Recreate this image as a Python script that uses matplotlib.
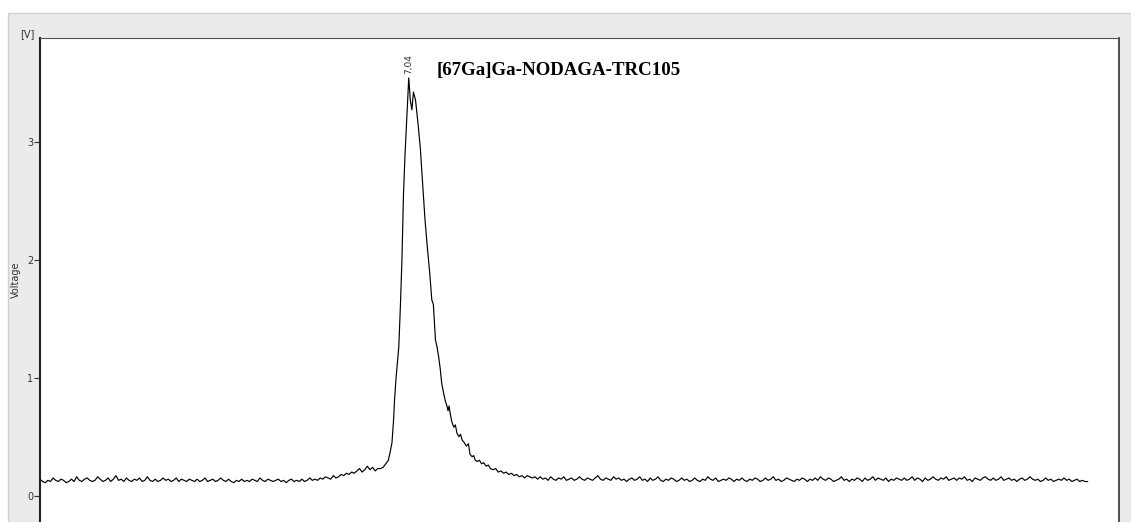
import numpy as np
import matplotlib.pyplot as plt
from matplotlib.patches import Rectangle

# chromatogram trace, voltage [V] vs time [min]
base_left = [
    0.14, 0.12, 0.11, 0.13, 0.12, 0.15, 0.13, 0.12, 0.14, 0.13, 0.11, 0.12, 0.14, 0.12, 0.16, 0.13, 0.12, 0.14, 0.15, 0.13,
    0.12, 0.13, 0.16, 0.14, 0.12, 0.13, 0.15, 0.12, 0.14, 0.17, 0.13, 0.14, 0.12, 0.15, 0.13, 0.12, 0.14, 0.13, 0.15, 0.12,
    0.13, 0.16, 0.13, 0.12, 0.14, 0.12, 0.13, 0.15, 0.13, 0.14, 0.12, 0.13, 0.15, 0.12, 0.14, 0.13, 0.12, 0.14, 0.13, 0.12,
    0.14, 0.12, 0.13, 0.15, 0.12, 0.13, 0.14, 0.12, 0.13, 0.15, 0.13, 0.12, 0.14, 0.12, 0.11, 0.13, 0.12, 0.14, 0.12, 0.13,
    0.12, 0.14, 0.13, 0.12, 0.15, 0.13, 0.12, 0.14, 0.13, 0.12, 0.13, 0.14, 0.12, 0.13, 0.11, 0.13, 0.14, 0.12, 0.13, 0.12,
    0.14, 0.12, 0.13, 0.15, 0.13, 0.14, 0.13, 0.15, 0.14, 0.16, 0.15, 0.14, 0.17, 0.15, 0.16, 0.18, 0.17, 0.19, 0.18, 0.20,
    0.19, 0.21, 0.23, 0.20, 0.22, 0.25, 0.22, 0.24, 0.21, 0.23,
]
t_left = np.arange(len(base_left)) * 0.05

t_peak = [6.50, 6.55, 6.60, 6.65, 6.69, 6.72, 6.75, 6.77, 6.80, 6.85, 6.88, 6.91, 6.94, 6.97, 7.00, 7.04,
          7.07, 7.10, 7.13, 7.17, 7.22, 7.26, 7.30, 7.35, 7.40, 7.44, 7.48, 7.51, 7.55, 7.58, 7.61, 7.64,
          7.67, 7.71, 7.74, 7.77, 7.79, 7.81, 7.83, 7.86, 7.90, 7.93, 7.96, 8.00, 8.03, 8.06, 8.10, 8.14,
          8.18, 8.21, 8.25, 8.28, 8.31, 8.35, 8.39, 8.43, 8.47, 8.52, 8.56, 8.60, 8.65, 8.70, 8.75, 8.80,
          8.85, 8.90, 8.95, 9.00, 9.05, 9.10, 9.15, 9.20, 9.25, 9.30, 9.35, 9.40, 9.45]
v_peak = [0.23, 0.24, 0.27, 0.30, 0.38, 0.45, 0.64, 0.82, 1.01, 1.26, 1.60, 2.00, 2.56, 2.90, 3.17, 3.54,
          3.35, 3.27, 3.42, 3.35, 3.14, 2.95, 2.68, 2.34, 2.08, 1.89, 1.66, 1.62, 1.32, 1.26, 1.18, 1.08,
          0.95, 0.86, 0.80, 0.76, 0.72, 0.76, 0.70, 0.63, 0.58, 0.60, 0.53, 0.50, 0.52, 0.47, 0.45, 0.42,
          0.44, 0.35, 0.33, 0.34, 0.30, 0.29, 0.30, 0.27, 0.28, 0.25, 0.26, 0.23, 0.22, 0.23, 0.20, 0.21,
          0.19, 0.20, 0.18, 0.19, 0.17, 0.18, 0.16, 0.17, 0.15, 0.17, 0.16, 0.15, 0.16]

base_right = [
    0.14, 0.16, 0.14, 0.15, 0.13, 0.16, 0.14, 0.13, 0.15, 0.14, 0.16, 0.13, 0.14, 0.15, 0.13, 0.14, 0.16, 0.14, 0.13, 0.15,
    0.14, 0.13, 0.15, 0.17, 0.14, 0.13, 0.15, 0.14, 0.13, 0.16, 0.14, 0.15, 0.13, 0.14, 0.12, 0.14, 0.15, 0.13, 0.14, 0.16,
    0.13, 0.14, 0.12, 0.15, 0.13, 0.14, 0.16, 0.13, 0.12, 0.14, 0.13, 0.15, 0.14, 0.12, 0.13, 0.15, 0.13, 0.14, 0.12, 0.13,
    0.15, 0.13, 0.12, 0.14, 0.13, 0.16, 0.14, 0.13, 0.15, 0.12, 0.13, 0.14, 0.13, 0.15, 0.14, 0.12, 0.14, 0.13, 0.15, 0.13,
    0.12, 0.14, 0.13, 0.15, 0.14, 0.12, 0.13, 0.15, 0.13, 0.14, 0.16, 0.13, 0.14, 0.12, 0.13, 0.15, 0.14, 0.13, 0.12, 0.14,
    0.13, 0.15, 0.14, 0.12, 0.14, 0.13, 0.15, 0.13, 0.16, 0.14, 0.13, 0.15, 0.14, 0.12, 0.13, 0.14, 0.16, 0.13, 0.14, 0.12,
    0.14, 0.13, 0.15, 0.14, 0.12, 0.15, 0.13, 0.14, 0.16, 0.13, 0.15, 0.14, 0.13, 0.15, 0.12, 0.14, 0.13, 0.15, 0.14, 0.13,
    0.15, 0.13, 0.14, 0.16, 0.13, 0.15, 0.14, 0.12, 0.15, 0.13, 0.14, 0.16, 0.14, 0.13, 0.15, 0.14, 0.16, 0.13, 0.14, 0.15,
    0.13, 0.15, 0.14, 0.16, 0.13, 0.14, 0.12, 0.15, 0.14, 0.13, 0.15, 0.16, 0.14, 0.13, 0.15, 0.13, 0.14, 0.16, 0.13, 0.14,
    0.15, 0.13, 0.14, 0.12, 0.14, 0.15, 0.13, 0.14, 0.16, 0.14, 0.13, 0.14, 0.12, 0.13, 0.15, 0.13, 0.14, 0.12, 0.13, 0.14,
    0.13, 0.15, 0.13, 0.14, 0.12, 0.13, 0.14, 0.12, 0.13, 0.12, 0.12,
]
t_right = 9.5 + np.arange(len(base_right)) * 0.05

peak_rt = 7.04
peak_v = 3.54
compound = '[67Ga]Ga-NODAGA-TRC105'
y_ticks = [0, 1, 2, 3]

t = np.concatenate([t_left, t_peak, t_right])
v = np.concatenate([base_left, v_peak, base_right])

W, H = 1131, 522
fig = plt.figure(figsize=(W / 100, H / 100), dpi=100)
fig.patch.set_facecolor('white')

# grey panel behind the plot
fig.patches.append(Rectangle((8 / W, 0), 1 - 8 / W, 1 - 13 / H, transform=fig.transFigure,
                             facecolor='#ebebeb', edgecolor='#d0d0d0', linewidth=1, zorder=-5))

ax = fig.add_axes([40 / W, 0, 1079 / W, 484 / H])
ax.set_facecolor('white')
ax.plot(t, v, color='black', linewidth=0.85)
ax.set_xlim(0, 20.6)
ax.set_ylim(-0.223, 3.878)

ax.spines['left'].set_color('#222222')
ax.spines['left'].set_linewidth(1.5)
ax.spines['top'].set_color('#555555')
ax.spines['right'].set_color('#333333')
ax.spines['right'].set_linewidth(1.2)
ax.spines['bottom'].set_visible(False)

ax.set_xticks([])
ax.set_yticks(y_ticks)
ax.tick_params(axis='y', length=4, width=0.8, color='#333333', labelsize=7, labelcolor='#333333', pad=1)
ax.set_ylabel('Voltage', fontsize=7, color='#333333')
ax.yaxis.set_label_coords(-19 / 1079, 0.5)

fig.text(27 / W, 1 - 34 / H, '[V]', fontsize=7, color='#333333', ha='center', va='center')

ax.annotate(f'{peak_rt:.2f}'.replace('.', ','), (peak_rt, peak_v), xytext=(0, 3), textcoords='offset points',
            rotation=90, ha='center', va='bottom', fontsize=6.5, color='#333333')
ax.text(peak_rt + 0.54, 3.60, compound, fontsize=13.6, fontweight='bold', family='Liberation Serif',
        ha='left', va='center')

fig.savefig('out.png', dpi=100)
